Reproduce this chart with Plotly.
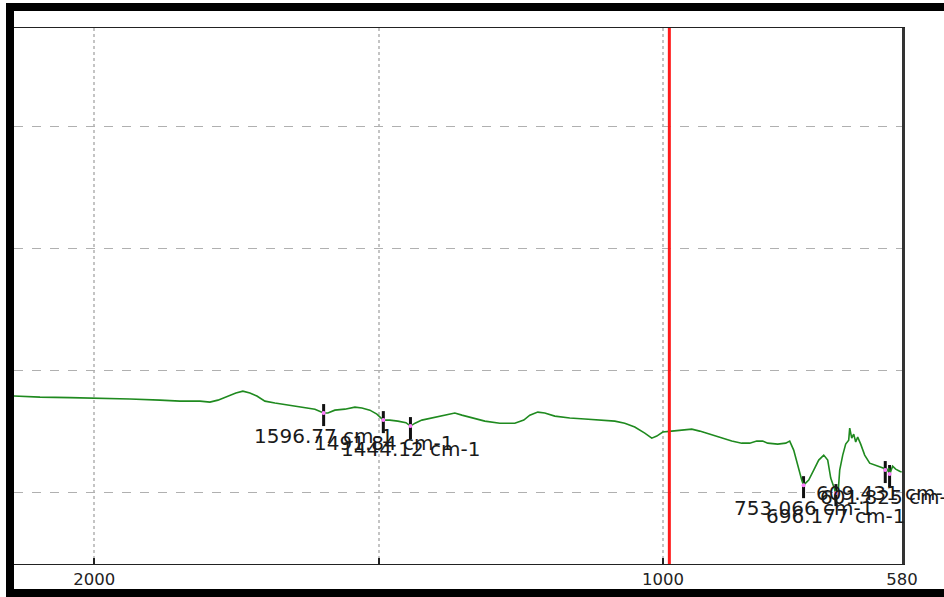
import numpy as np
import plotly.graph_objects as go

# IR spectrum (wavenumber in cm-1, transmittance in %T)
wavenumber = [
    2141.1, 2095.4, 2042.7, 1998.8, 1937.3, 1884.5, 1849.4, 1814.2, 1796.7, 1782.6,
    1765.0, 1751.0, 1738.7, 1726.4, 1714.1, 1700.0, 1682.4, 1656.1, 1629.7, 1612.1,
    1596.8, 1589.3, 1577.0, 1559.4, 1541.8, 1529.5, 1515.5, 1503.2, 1491.8, 1480.3,
    1466.3, 1452.0, 1444.1, 1436.0, 1424.1, 1406.5, 1383.6, 1366.1, 1353.8, 1336.2,
    1313.4, 1287.0, 1260.7, 1244.9, 1234.3, 1220.3, 1208.0, 1190.4, 1164.0, 1137.7,
    1111.3, 1084.9, 1067.4, 1049.8, 1032.2, 1019.9, 1011.1, 1000.6, 984.8, 967.2,
    949.6, 935.6, 918.0, 896.9, 879.3, 861.8, 847.7, 835.4, 824.9, 816.1,
    798.5, 784.4, 777.4, 770.4, 763.4, 756.3, 753.1, 744.0, 735.2, 726.4,
    717.6, 710.6, 705.3, 700.1, 696.2, 692.0, 689.5, 684.2, 679.0, 673.7,
    671.9, 668.4, 664.9, 661.4, 657.9, 652.6, 645.6, 636.8, 626.3, 617.5,
    612.2, 609.4, 606.9, 603.4, 601.8, 596.4, 591.1, 584.1, 580.5,
]
transmittance = [
    67.89, 67.80, 67.76, 67.72, 67.64, 67.55, 67.47, 67.47, 67.39, 67.55,
    67.89, 68.13, 68.29, 68.13, 67.89, 67.47, 67.31, 67.14, 66.98, 66.81,
    66.49, 66.49, 66.73, 66.81, 66.98, 66.90, 66.73, 66.40, 65.91, 65.91,
    65.83, 65.70, 65.42, 65.66, 65.91, 66.08, 66.32, 66.49, 66.32, 66.08,
    65.83, 65.66, 65.66, 65.91, 66.32, 66.57, 66.49, 66.24, 66.08, 66.00,
    65.91, 65.83, 65.66, 65.34, 64.84, 64.43, 64.60, 64.93, 65.01, 65.09,
    65.17, 65.01, 64.76, 64.43, 64.19, 64.02, 64.02, 64.19, 64.19, 64.02,
    63.94, 64.02, 64.19, 63.45, 62.13, 60.99, 60.57, 60.99, 61.81, 62.63,
    63.04, 62.63, 61.15, 60.40, 59.92, 60.16, 61.81, 63.04, 63.94, 64.27,
    65.25, 64.43, 64.76, 64.11, 64.52, 63.94, 63.04, 62.38, 62.22, 62.05,
    61.97, 61.81, 61.70, 61.97, 61.48, 62.13, 61.89, 61.72, 61.64,
]

# Picked peaks
peak_wn = [1596.77, 1491.84, 1444.12, 753.066, 696.177, 609.431, 601.825]
peak_text = ["1596.77 cm-1", "1491.84 cm-1", "1444.12 cm-1", "753.066 cm-1",
             "696.177 cm-1", "609.431 cm-1", "601.825 cm-1"]

# Axis ticks
x_tickvals = [2000, 1500, 1000, 580]
x_ticktext = ["2000", "", "1000", "580"]
y_gridvals = [60, 70, 80, 90]
cursor_wn = 989.0

wn_arr = np.array(wavenumber)
t_arr = np.array(transmittance)
peak_t = np.interp(peak_wn, wn_arr[::-1], t_arr[::-1])

W, H = 944, 597
ML, MR, MT, MB = 14, 42, 28, 33
PW, PH = W - ML - MR, H - MT - MB


def px_x(px):
    return (px - ML) / PW


def px_y(py):
    return (H - MB - py) / PH


fig = go.Figure()

fig.add_trace(go.Scatter(
    x=wavenumber, y=transmittance, mode="lines",
    line=dict(color="#1f8a1f", width=1.6),
    hoverinfo="skip", showlegend=False,
))

fig.add_trace(go.Scatter(
    x=peak_wn, y=peak_t, mode="markers",
    marker=dict(color="#ff7fff", size=4),
    hoverinfo="skip", showlegend=False,
))

shapes = []
# peak pick ticks
for wn, t in zip(peak_wn, peak_t):
    shapes.append(dict(
        type="line", xref="x", yref="y", ysizemode="pixel",
        x0=wn, x1=wn, yanchor=t, y0=-13, y1=9,
        line=dict(color="#111111", width=3), layer="below",
    ))

# cursor line
shapes.append(dict(
    type="line", xref="x", yref="paper", x0=cursor_wn, x1=cursor_wn, y0=0, y1=1,
    line=dict(color="#ff1a1a", width=3), layer="above",
))

# black window frame
frame = dict(type="rect", xref="paper", yref="paper",
             fillcolor="black", line=dict(width=0), layer="above")
shapes.append(dict(frame, x0=px_x(6), x1=px_x(14), y0=px_y(597), y1=px_y(3)))
shapes.append(dict(frame, x0=px_x(6), x1=px_x(944), y0=px_y(11), y1=px_y(3)))
shapes.append(dict(frame, x0=px_x(6), x1=px_x(944), y0=px_y(597), y1=px_y(589)))

annotations = []
for wn, t, txt in zip(peak_wn, peak_t, peak_text):
    annotations.append(dict(
        x=wn, y=t, xref="x", yref="y", text=txt, showarrow=False,
        yshift=-23, xanchor="center", yanchor="middle",
        font=dict(family="DejaVu Sans", size=20, color="#1a1a1a"),
    ))

fig.update_layout(
    width=W, height=H,
    margin=dict(l=ML, r=MR, t=MT, b=MB, pad=0, autoexpand=False),
    paper_bgcolor="white", plot_bgcolor="white",
    shapes=shapes, annotations=annotations,
    showlegend=False,
    xaxis=dict(
        range=[2141.1, 580], autorange=False, automargin=False,
        tickvals=x_tickvals, ticktext=x_ticktext,
        ticks="inside", ticklen=6, tickwidth=2, tickcolor="#222222",
        tickfont=dict(family="DejaVu Sans", size=16.5, color="#222222"),
        showgrid=True, gridcolor="#c4c4c4", gridwidth=2, griddash="dot",
        showline=True, linecolor="#222222", linewidth=1, mirror=True,
        zeroline=False,
    ),
    yaxis=dict(
        range=[54.1, 98.1], autorange=False, automargin=False,
        tickvals=y_gridvals, showticklabels=False, ticks="",
        showgrid=True, gridcolor="#b0b0b0", gridwidth=1, griddash="dash",
        showline=True, linecolor="#333333", linewidth=3, mirror=True,
        zeroline=False,
    ),
)

fig.write_html("out.html")
